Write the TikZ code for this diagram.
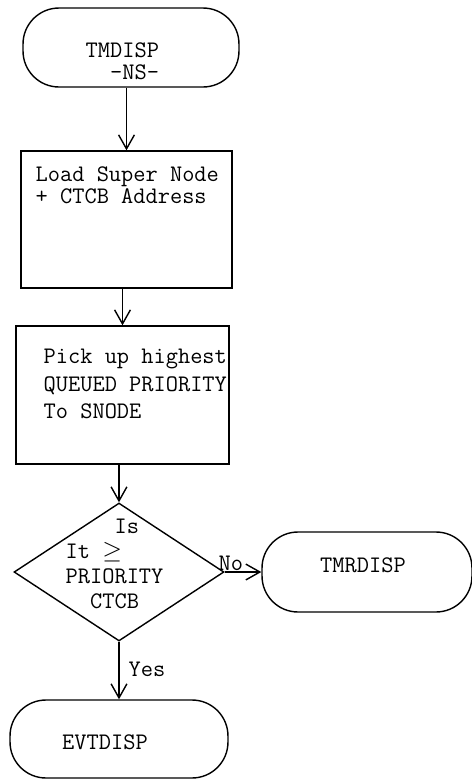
\documentclass[tikz,border=0pt]{standalone}
\usetikzlibrary{arrows.meta}
\usetikzlibrary{shapes.geometric}
\usetikzlibrary{calc}

\begin{document}
\begin{tikzpicture}[x=0.02cm, y=-0.02cm, thick,
    flow/.style={-{Straight Barb[length=8pt, width=9pt]}},
    term/.style={draw, rectangle, rounded corners=0.72cm, inner sep=0pt},
    box/.style={draw, rectangle, inner sep=0pt},
    txt/.style={anchor=west, align=left, inner sep=0pt, font=\fontsize{13.5}{12.5}\selectfont\ttfamily}]
          \useasboundingbox (0,0) rectangle (472,779);

          % shapes
          \node[term, minimum width=4.32cm, minimum height=1.58cm] (tmdisp) at (131,47.5) {};
          \node[box, minimum width=4.22cm, minimum height=2.74cm] (load) at (126.5,219.5) {};
          \node[box, minimum width=4.26cm, minimum height=2.76cm] (pick) at (122.5,395) {};
          \node[draw, diamond, inner sep=0pt, minimum width=4.2cm, minimum height=2.76cm] (test) at (119,572) {};
          \node[term, minimum width=4.2cm, minimum height=1.6cm] (tmrdisp) at (367,572) {};
          \node[term, minimum width=4.36cm, minimum height=1.56cm] (evtdisp) at (119,739) {};

          % texts
          \node[txt] (tmdisplbl) at (85,61) {TMDISP\\\hphantom{TM}-NS-};
          \node[txt, font=\fontsize{13.5}{12.5}\selectfont\ttfamily] (loadlbl) at (35,185) {Load Super Node\\+ CTCB Address};
          \node[txt, font=\fontsize{13.5}{15.6}\selectfont\ttfamily] (picklbl) at (43,384) {Pick up highest\\QUEUED PRIORITY\\To SNODE};
          \node[txt, font=\fontsize{13.5}{14.2}\selectfont\ttfamily] (testlbl) at (65,564) {\hphantom{PRIO}Is\\It $\geq$\\PRIORITY\\\hphantom{PR}CTCB};
          \node[txt, anchor=center] (tmrdisplbl) at (363,565) {TMRDISP};
          \node[txt, anchor=center] (evtdisplbl) at (105,742) {EVTDISP};
          \node[txt] (nolbl) at (218,563) {No};
          \node[txt] (yeslbl) at (128,669) {Yes};

          % connectors
          \draw [flow] (tmdisp.south -| load.north) -- (load.north);
          \draw [flow] (load.south -| pick.north) -- (pick.north);
          \draw [flow] (pick.south -| test.north) -- (test.north);
          \draw [flow] (test.east) -- (tmrdisp.west);
          \draw [flow] (test.south) -- (evtdisp.north);

        \end{tikzpicture}
\end{document}
